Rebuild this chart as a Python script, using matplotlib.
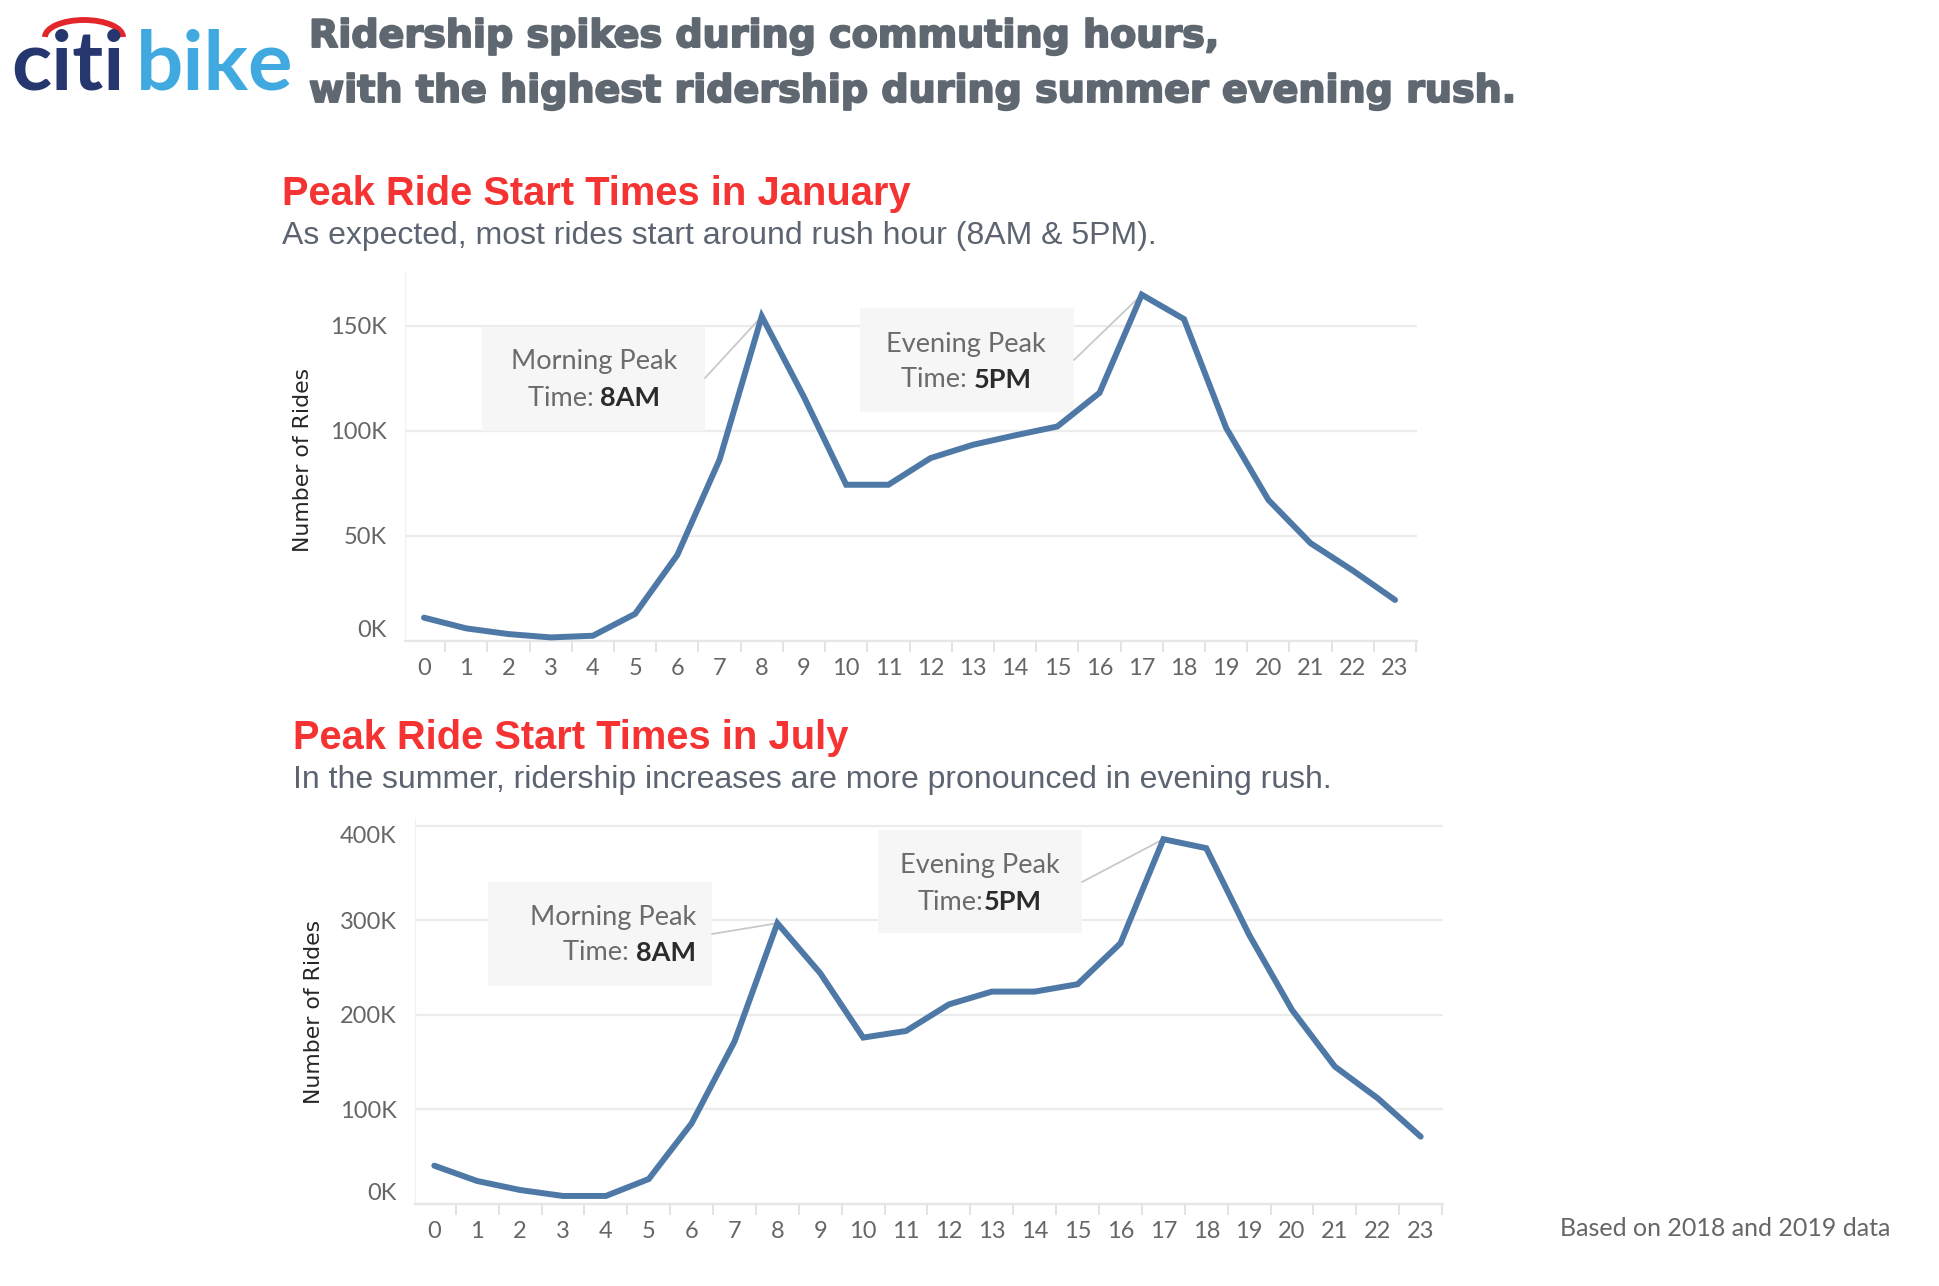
import matplotlib
matplotlib.use('Agg')
import matplotlib.pyplot as plt
import matplotlib.patheffects as pe
from matplotlib.patches import Rectangle, Arc
from matplotlib.ticker import FuncFormatter

hours = list(range(24))
jan_rides = [11100, 6000, 3300, 1700, 2500, 12900, 40900, 86200, 154400, 116000, 74300, 74300,
             87000, 93300, 97800, 102000, 118000, 164700, 153100, 101300, 67100, 46500, 33500, 19500]
jul_rides = [40500, 24300, 14800, 8500, 8500, 26400, 85300, 171700, 296800, 243900, 175900, 182900,
             211000, 224500, 224500, 232300, 275600, 385600, 376100, 284500, 205100, 145200, 111700, 71200]
jan_ticks = [0, 50000, 100000, 150000]
jul_ticks = [0, 100000, 200000, 300000, 400000]

W, H = 1940, 1286
LINE = '#4e79a7'
GREY_TXT = '#666666'
TAB_FONT = 'Lato'


def fx(x):
    return x / W


def fy(y):
    return 1 - y / H


fig = plt.figure(figsize=(W / 100, H / 100), dpi=100)
fig.patch.set_facecolor('white')
renderer = fig.canvas.get_renderer()

# logo
logo = fig.add_axes([0, fy(120), 320 / W, 120 / H])
logo.set_xlim(0, 320)
logo.set_ylim(120, 0)
logo.axis('off')
logo.text(11, 90, 'citi', color='#25376e', fontsize=60, fontweight='bold', family='Lato', va='baseline')
logo.text(136, 90, 'bike', color='#3fa9e0', fontsize=60, fontweight='bold', family='Lato', va='baseline')
logo.add_patch(Arc((84, 37), 78, 34, theta1=180, theta2=360, color='#e3262b', lw=4.2))

# main title
title_fx = [pe.withStroke(linewidth=1.4, foreground='#5f6770')]
fig.text(fx(309), fy(47), 'Ridership spikes during commuting hours,', color='#5f6770',
         fontsize=27.4, fontweight='bold', family='DejaVu Sans', va='baseline', path_effects=title_fx)
fig.text(fx(309), fy(102), 'with the highest ridership during summer evening rush.', color='#5f6770',
         fontsize=27.4, fontweight='bold', family='DejaVu Sans', va='baseline', path_effects=title_fx)


def two_part(x, y, light, bold, align):
    t1 = fig.text(0, 0, light, color='#6b6b6b', fontsize=19.5, family=TAB_FONT, va='center', zorder=10)
    t2 = fig.text(0, 0, bold, color='#2b2b2b', fontsize=19.5, family=TAB_FONT, fontweight='bold',
                  va='center', zorder=10)
    w1 = t1.get_window_extent(renderer).width
    w2 = t2.get_window_extent(renderer).width
    start = x - (w1 + w2) / 2 if align == 'center' else x - (w1 + w2)
    t1.set_position((fx(start), fy(y)))
    t2.set_position((fx(start + w1), fy(y)))


def make_panel(rect, values, ticks, ymax, title_xy, title, sub_y, subtitle, ylab_xy,
               top_label_top=False):
    left, top, right, bottom = rect
    ax = fig.add_axes([fx(left), fy(bottom), (right - left) / W, (bottom - top) / H])
    ax.plot(hours, values, color=LINE, lw=4.3, solid_capstyle='round', solid_joinstyle='miter',
            zorder=5, clip_on=False)
    ax.set_xlim(-0.45, 23.52)
    ax.set_ylim(0, ymax)
    ax.set_xticks(hours)
    ax.set_xticks([h + 0.5 for h in hours], minor=True)
    ax.set_yticks(ticks)
    ax.yaxis.set_major_formatter(FuncFormatter(lambda v, p: f'{int(v / 1000)}K'))
    ax.tick_params(axis='both', which='major', length=0, labelsize=17, labelcolor=GREY_TXT)
    ax.tick_params(axis='x', which='major', pad=12)
    ax.tick_params(axis='y', which='major', pad=13)
    ax.tick_params(axis='x', which='minor', length=8, width=1.2, color='#dedede')
    for lab in ax.get_xticklabels() + ax.get_yticklabels():
        lab.set_family(TAB_FONT)
    ylabs = ax.get_yticklabels()
    ylabs[0].set_va('bottom')
    if top_label_top:
        ylabs[-1].set_va('top')
    ax.grid(axis='y', color='#ececec', lw=1.6)
    ax.set_axisbelow(True)
    for s in ['top', 'right']:
        ax.spines[s].set_visible(False)
    ax.spines['left'].set_color('#f2f2f2')
    ax.spines['bottom'].set_color('#e6e6e6')
    ax.spines['bottom'].set_linewidth(1.6)

    fig.text(fx(title_xy[0]), fy(title_xy[1]), title, color='#f53333', fontsize=28.7, fontweight='bold',
             family='Liberation Sans', va='baseline')
    fig.text(fx(title_xy[0]), fy(sub_y), subtitle, color='#5b6470', fontsize=23,
             family='Liberation Sans', va='baseline')
    fig.text(fx(ylab_xy[0]), fy(ylab_xy[1]), 'Number of Rides', rotation=90, ha='center', va='center',
             fontsize=15.8, color='#262626', family='DejaVu Sans')
    return ax


def peak_box(ax, box, hour, values, text_x, y1, y2, light, bold, align, line_from):
    x0, y0, x1, y1b = box
    ax.add_patch(Rectangle((fx(x0), fy(y1b)), (x1 - x0) / W, (y1b - y0) / H, transform=fig.transFigure,
                           facecolor='#f6f6f6', edgecolor='none', zorder=2, clip_on=False))
    ha = 'center' if align == 'center' else 'right'
    fig.text(fx(text_x), fy(y1), 'Morning Peak' if hour < 12 else 'Evening Peak', color='#6b6b6b',
             fontsize=19.5, family=TAB_FONT, ha=ha, va='center', zorder=10)
    two_part(text_x, y2, light, bold, align)
    ax.annotate('', xy=(hour, values[hour]), xycoords='data',
                xytext=(line_from[0], H - line_from[1]), textcoords='figure pixels',
                arrowprops=dict(arrowstyle='-', color='#c9c9c9', lw=1.3, shrinkA=0, shrinkB=0), zorder=3)


ax1 = make_panel((405, 273, 1417, 641), jan_rides, jan_ticks, 175000, (282, 205),
                 'Peak Ride Start Times in January', 244,
                 'As expected, most rides start around rush hour (8AM & 5PM).', (303, 460))
peak_box(ax1, (482, 327, 705, 431), 8, jan_rides, 594, 362, 398, 'Time: ', '8AM', 'center', (705, 378))
peak_box(ax1, (860, 308, 1074, 412), 17, jan_rides, 966, 344, 380, 'Time: ', '5PM', 'center', (1074, 360))

ax2 = make_panel((415, 818, 1443, 1204), jul_rides, jul_ticks, 408000, (293, 749),
                 'Peak Ride Start Times in July', 788,
                 'In the summer, ridership increases are more pronounced in evening rush.', (314, 1012),
                 top_label_top=True)
peak_box(ax2, (488, 882, 712, 986), 8, jul_rides, 696, 917, 953, 'Time: ', '8AM', 'right', (712, 934))
peak_box(ax2, (878, 830, 1082, 933), 17, jul_rides, 980, 865, 902, 'Time:', '5PM', 'center', (1082, 882))

fig.text(fx(1560), fy(1236), 'Based on 2018 and 2019 data', color=GREY_TXT, fontsize=18,
         family=TAB_FONT, va='baseline')

fig.savefig('out.png', dpi=100, facecolor='white')
